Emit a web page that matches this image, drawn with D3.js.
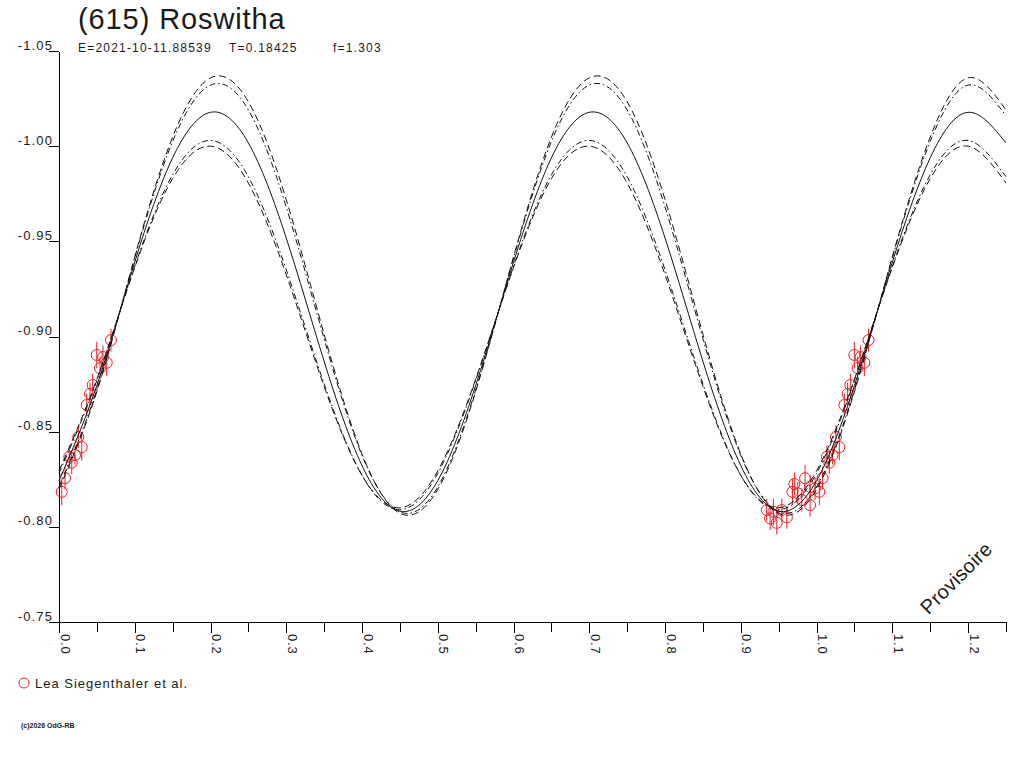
<!DOCTYPE html>
<html><head><meta charset="utf-8">
<script src="https://cdn.jsdelivr.net/npm/d3@7"></script>
<style>
body{margin:0;background:#fff}
svg{display:block}
text{font-family:"Liberation Sans",Arial,sans-serif;fill:#1a1a1a}
</style>
</head><body>
<svg id="chart" width="1024" height="768"></svg>
<script>
// ---- tick labels ----
const xTickValues = [0.0,0.1,0.2,0.3,0.4,0.5,0.6,0.7,0.8,0.9,1.0,1.1,1.2];
const xMinorTicks = [0,0.05,0.1,0.15,0.2,0.25,0.3,0.35,0.4,0.45,0.5,0.55,0.6,0.65,0.7,0.75,0.8,0.85,0.9,0.95,1.0,1.05,1.1,1.15,1.2,1.25];
const yTickValues = [-1.05,-1.00,-0.95,-0.90,-0.85,-0.80,-0.75];

// ---- fitted light curve (phase grid and magnitudes) ----
const fitPhase = [0,0.05,0.1,0.15,0.2,0.25,0.3,0.35,0.4,0.45,0.5,0.55,0.6,0.65,0.7,0.75,0.8,0.85,0.9,0.95,1.0,1.05,1.1,1.15,1.2,1.25];
const fitMain   = [-0.8243,-0.8743,-0.9391,-0.9939,-1.0178,-1.0017,-0.9517,-0.8869,-0.8321,-0.8082,
                   -0.8243,-0.8743,-0.9391,-0.9939,-1.0178,-1.0017,-0.9517,-0.8869,-0.8321,-0.8082,
                   -0.8243,-0.8743,-0.9391,-0.9939,-1.0178,-1.0017];
const fitUpperDash = [-0.8197,-0.8711,-0.9419,-1.0048,-1.0359,-1.0233,-0.9719,-0.9011,-0.8382,-0.8071,
                   -0.8197,-0.8711,-0.9419,-1.0048,-1.0359,-1.0233,-0.9719,-0.9011,-0.8382,-0.8071,
                   -0.8197,-0.8711,-0.9419,-1.0048,-1.0359,-1.0190];
const fitUpperDot = [-0.8210,-0.8720,-0.9413,-1.0025,-1.0321,-1.0190,-0.9680,-0.8987,-0.8375,-0.8079,
                   -0.8210,-0.8720,-0.9413,-1.0025,-1.0321,-1.0190,-0.9680,-0.8987,-0.8375,-0.8079,
                   -0.8210,-0.8720,-0.9413,-1.0025,-1.0321,-1.0160];
const fitLowerDot = [-0.8281,-0.8770,-0.9369,-0.9850,-1.0030,-0.9839,-0.9350,-0.8751,-0.8270,-0.8090,
                   -0.8281,-0.8770,-0.9369,-0.9850,-1.0030,-0.9839,-0.9350,-0.8751,-0.8270,-0.8090,
                   -0.8281,-0.8770,-0.9369,-0.9850,-1.0030,-0.9839];
const fitLowerDash = [-0.8294,-0.8776,-0.9363,-0.9830,-1.0000,-0.9806,-0.9324,-0.8737,-0.8270,-0.8100,
                   -0.8294,-0.8776,-0.9363,-0.9830,-1.0000,-0.9806,-0.9324,-0.8737,-0.8270,-0.8100,
                   -0.8294,-0.8776,-0.9363,-0.9830,-1.0000,-0.9806];

// ---- observations (Lea Siegenthaler et al.) ----
const obsPhase = [0.0036,0.0079,0.0136,0.0168,0.0211,0.0255,0.0300,0.0366,0.0409,0.0445,0.0498,0.0541,0.0581,0.0630,0.0686,
                  0.9342,0.9386,0.9430,0.9474,0.9541,0.9607,0.9681,0.9707,0.9752,0.9805,0.9848,0.9914,0.9914,0.9980];
const obsMag   = [-0.8184,-0.8256,-0.8368,-0.8337,-0.8377,-0.8472,-0.8419,-0.8640,-0.8698,-0.8745,-0.8903,-0.8834,-0.8892,-0.8862,-0.8981,
                  -0.8088,-0.8044,-0.8079,-0.8021,-0.8088,-0.8050,-0.8184,-0.8225,-0.8176,-0.8141,-0.8255,-0.8114,-0.8210,-0.8202];
const obsErr   = [0.007,0.006,0.006,0.006,0.005,0.006,0.007,0.006,0.006,0.006,0.007,0.006,0.006,0.007,0.006,
                  0.006,0.006,0.007,0.006,0.006,0.006,0.007,0.006,0.006,0.006,0.007,0.006,0.006,0.006];

const titleText = "(615) Roswitha";
const subTexts = ["E=2021-10-11.88539","T=0.18425","f=1.303"];
const legendText = "Lea Siegenthaler et al.";
const red = "#e8232a";

const svg = d3.select("#chart");
const x = d3.scaleLinear().domain([0,1.25]).range([59,1006]);
const y = d3.scaleLinear().domain([-1.05,-0.75]).range([51,622]);

// title
svg.append("text").attr("x",78).attr("y",29).attr("font-size",29).attr("letter-spacing",0.9).text(titleText);
const subX = [78,229,333];
subTexts.forEach((t,i)=>svg.append("text").attr("x",subX[i]).attr("y",52).attr("font-size",12).attr("letter-spacing",1.2).text(t));

// y axis
const gy = svg.append("g").attr("transform","translate(59,0)")
  .call(d3.axisLeft(y).tickValues(yTickValues).tickSize(10).tickSizeOuter(0).tickFormat(d=>d.toFixed(2)));
gy.selectAll("path,line").attr("stroke","#000").attr("shape-rendering","crispEdges");
gy.selectAll("text").attr("x",-6).attr("dy",null).attr("y",-2)
  .attr("font-size",13).attr("letter-spacing",1.1).attr("fill","#1a1a1a")
  .attr("font-family","'Liberation Sans',Arial,sans-serif");

// x axis minor
const gxm = svg.append("g").attr("transform","translate(0,622)")
  .call(d3.axisBottom(x).tickValues(xMinorTicks).tickSize(10).tickSizeOuter(0).tickFormat(""));
gxm.selectAll("path,line").attr("stroke","#000").attr("shape-rendering","crispEdges");
// x axis major labels
const gx = svg.append("g").attr("transform","translate(0,622)")
  .call(d3.axisBottom(x).tickValues(xTickValues).tickSize(11).tickSizeOuter(0).tickFormat(d=>d.toFixed(1)));
gx.select(".domain").remove();
gx.selectAll("line").attr("stroke","#000").attr("shape-rendering","crispEdges");
gx.selectAll("text").attr("x",0).attr("y",0).attr("dy",null)
  .attr("transform","translate(1,12) rotate(90)").attr("text-anchor","start")
  .attr("font-size",13).attr("letter-spacing",0.8).attr("fill","#1a1a1a")
  .attr("font-family","'Liberation Sans',Arial,sans-serif");

// observations (shown at phase and phase+1 within the range)
const pts = [];
obsPhase.forEach((p,i)=>{
  [p, p+1].forEach(pp=>{ if(pp>=0 && pp<=1.25) pts.push({p:pp,m:obsMag[i],e:obsErr[i]}); });
});
const gp = svg.append("g");
gp.selectAll("line").data(pts).join("line")
  .attr("x1",d=>x(d.p)).attr("x2",d=>x(d.p))
  .attr("y1",d=>y(d.m-d.e)).attr("y2",d=>y(d.m+d.e))
  .attr("stroke",red).attr("stroke-width",1);
gp.selectAll("circle").data(pts).join("circle")
  .attr("cx",d=>x(d.p)).attr("cy",d=>y(d.m)).attr("r",5.5)
  .attr("fill","none").attr("stroke",red).attr("stroke-width",1);

// fitted curves
const line = d3.line().x((d,i)=>x(fitPhase[i])).y(d=>y(d)).curve(d3.curveNatural);
const curves = [
  {v:fitUpperDash, dash:"7,4"},
  {v:fitUpperDot,  dash:"6,3,1.5,3"},
  {v:fitMain,      dash:null},
  {v:fitLowerDot,  dash:"6,3,1.5,3"},
  {v:fitLowerDash, dash:"7,4"}
];
curves.forEach(c=>{
  svg.append("path").attr("d",line(c.v)).attr("fill","none").attr("stroke","#111")
    .attr("stroke-width",1).attr("stroke-dasharray",c.dash);
});

// Provisoire
svg.append("text").attr("transform","translate(961,583) rotate(-45)")
  .attr("text-anchor","middle").attr("font-size",20).attr("letter-spacing",0.3).text("Provisoire");

// legend
svg.append("circle").attr("cx",24).attr("cy",683).attr("r",5).attr("fill","none").attr("stroke",red);
svg.append("text").attr("x",35).attr("y",688).attr("font-size",13).attr("letter-spacing",1).text(legendText);

// footer
svg.append("text").attr("x",21).attr("y",728).attr("font-size",7).attr("font-weight","bold").text("(c)2026 OdG-RB");
</script>
</body></html>
